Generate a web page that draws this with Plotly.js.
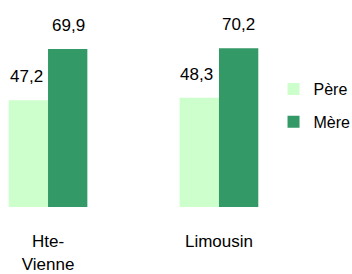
<!DOCTYPE html>
<html>
<head>
<meta charset="utf-8">
<script src="https://cdn.plot.ly/plotly-3.0.1.min.js"></script>
<style>html,body{margin:0;padding:0;background:#fff}#chart{width:352px;height:274px}</style>
</head>
<body>
<div id="chart"></div>
<script>
var categories = ["Hte-<br>Vienne", "Limousin"];
var seriesNames = ["Père", "Mère"];
var pereValues = [47.2, 48.3];
var mereValues = [69.9, 70.2];
var seriesColors = ["#ccffcc", "#339966"];

function fmt(v){ return v.toFixed(1).replace(".", ","); }

var xIdx = categories.map(function(_, i){ return i; });
var FONT = "Liberation Sans, Arial, sans-serif";

var traces = [
  {type:"bar", name:seriesNames[0], x:xIdx, y:pereValues, marker:{color:seriesColors[0]},
   text:pereValues.map(fmt), textposition:"none", hoverinfo:"skip", legendgroup:"a"},
  {type:"bar", name:seriesNames[1], x:xIdx, y:mereValues, marker:{color:seriesColors[1]},
   text:mereValues.map(fmt), textposition:"none", hoverinfo:"skip", legendgroup:"b"}
];

var annotations = [];
[pereValues, mereValues].forEach(function(vals, s){
  vals.forEach(function(v, i){
    annotations.push({x:i, y:v, xref:"x", yref:"y", text:fmt(v), showarrow:false,
      xshift:(s===0?-22:20), yanchor:"bottom", yshift:12,
      font:{family:FONT, size:17, color:"#000"}});
  });
});

var layout = {
  width:352, height:274,
  margin:{l:0, r:92, t:20, b:67, autoexpand:false},
  paper_bgcolor:"#fff", plot_bgcolor:"#fff",
  barmode:"group", bargap:0.54, bargroupgap:0,
  font:{family:FONT, size:17, color:"#000"},
  xaxis:{range:[-0.281, 1.240], tickvals:xIdx, ticktext:categories, showgrid:false, zeroline:false,
         showline:false, ticks:"outside", ticklen:19, tickcolor:"rgba(0,0,0,0)", automargin:false,
         tickfont:{family:FONT, size:17, color:"#000"}, fixedrange:true},
  yaxis:{range:[0, 82.7], visible:false, showgrid:false, zeroline:false, fixedrange:true, automargin:false},
  showlegend:true,
  legend:{x:1.052, xanchor:"left", y:0.722, yanchor:"top", traceorder:"grouped", tracegroupgap:9,
          font:{family:FONT, size:16, color:"#000"}, bgcolor:"rgba(0,0,0,0)"},
  annotations:annotations
};

Plotly.newPlot("chart", traces, layout, {displayModeBar:false, staticPlot:true});
</script>
</body>
</html>
